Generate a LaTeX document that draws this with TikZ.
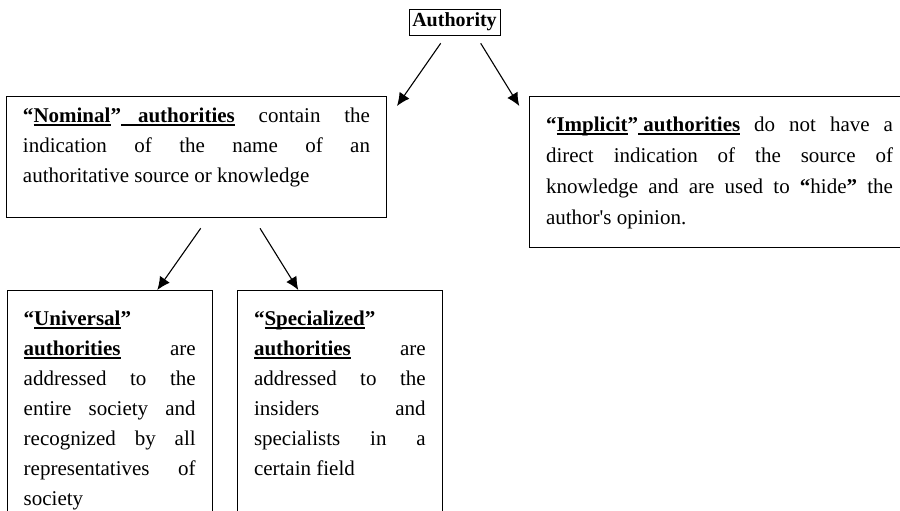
\documentclass[tikz,border=0pt]{standalone}
\usepackage{fontspec}
\newfontfamily\tnr{Liberation Serif}
\usetikzlibrary{arrows.meta}
\newcommand\myul[1]{\leavevmode\setbox0\hbox{#1}\rlap{\rule[-3.5pt]{\wd0}{1.2pt}}\box0}
\begin{document}
\begin{tikzpicture}[x=1pt,y=-1pt,
  box/.style={draw, line width=1pt, anchor=north west, inner xsep=16.5pt, inner ysep=11pt,
    font=\tnr\fontsize{21}{30}\selectfont},
  arr/.style={line width=1.1pt, -{Latex[length=13pt,width=12pt]}}]
\clip (0,0) rectangle (900,511);
\node[draw, line width=0.8pt, font=\tnr\bfseries\fontsize{20}{24}\selectfont,
  minimum width=91pt, minimum height=26pt, inner sep=1pt] (auth) at (454.5,22) {Authority};
\node[box] (nom) at (6,96) {\parbox[t][99pt][t]{347pt}{%
{\bfseries “\myul{Nominal}”\myul{\hspace{17pt}authorities}} contain the\linebreak
indication of the name of an\linebreak
authoritative source or knowledge}};
\node[box, inner ysep=20pt, font=\tnr\fontsize{21}{31}\selectfont] (imp) at (529,96) {\parbox[t][111pt][t]{347pt}{%
{\bfseries “\myul{Implicit}”\myul{\ authorities}} do not have a\linebreak
direct indication of the source of\linebreak
knowledge and are used to {\bfseries “}hide{\bfseries ”} the\linebreak
author's opinion.}};
\node[box, inner ysep=20pt] (uni) at (6.7,290) {\parbox[t][250pt][t]{172pt}{%
{\bfseries “\myul{Universal}”}\\
{\bfseries\myul{authorities}} are\linebreak
addressed to the\linebreak
entire society and\linebreak
recognized by all\linebreak
representatives of\linebreak
society}};
\node[box, inner ysep=20pt] (spe) at (237,290) {\parbox[t][250pt][t]{171.7pt}{%
{\bfseries “\myul{Specialized}”}\\
{\bfseries\myul{authorities}} are\linebreak
addressed to the\linebreak
insiders and\linebreak
specialists in a\linebreak
certain field}};
\coordinate (a1s) at (440.7,43.3);
\coordinate (a1e) at (397,106);
\coordinate (a2s) at (480.7,43.3);
\coordinate (a2e) at (519.3,106);
\coordinate (a3s) at (200.7,228.3);
\coordinate (a3e) at (157.3,290);
\coordinate (a4s) at (260,228.3);
\coordinate (a4e) at (298.3,290);
\draw[arr] (a1s) -- (a1e);
\draw[arr] (a2s) -- (a2e);
\draw[arr] (a3s) -- (a3e);
\draw[arr] (a4s) -- (a4e);
\end{tikzpicture}
\end{document}
